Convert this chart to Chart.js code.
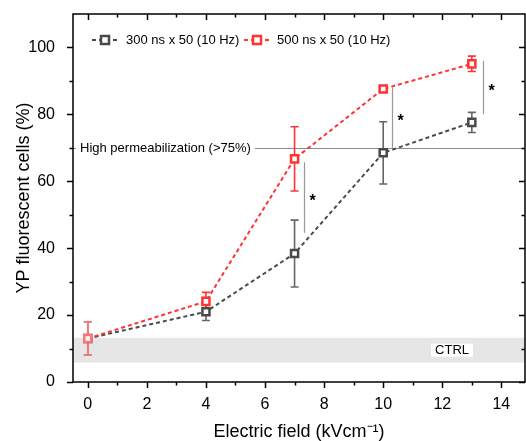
<!DOCTYPE html>
<html>
<head>
<meta charset="utf-8">
<script src="https://cdn.jsdelivr.net/npm/chart.js@4/dist/chart.umd.min.js"></script>
<style>
  html, body { margin: 0; padding: 0; background: #fff; overflow: hidden; }
  #box { width: 526px; height: 441px; }
</style>
</head>
<body>
<div id="box"><canvas id="grafica"></canvas></div>
<script>
// Datos
const campo = [0, 4, 7, 10, 13];
const serie300 = [13, 21, 38.4, 68.5, 77.6];
const error300 = [5, 2.6, 10, 9.3, 3];
const serie500 = [13, 24.1, 66.7, 87.6, 95.1];
const error500 = [5, 2.7, 9.6, 1, 2.3];
const etiquetas = ['300 ns x 50 (10 Hz)', '500 ns x 50 (10 Hz)'];

const ticksX = [0, 2, 4, 6, 8, 10, 12, 14];
const ticksY = [0, 20, 40, 60, 80, 100];
const umbral = 70;
const bandaCtrl = [5.8, 13.2];
// barras de significancia: x, y inferior, y superior
const sigX = [7.33, 10.3, 13.37];
const sigBajo = [44.6, 70, 80];
const sigAlto = [65.7, 88.1, 96];

const gris = '#4a4a4a';
const rojo = '#ff3333';
const rojoClaro = '#ff7373';
const fuente = 'Arial, "Liberation Sans", sans-serif';

// Dibujo extra: banda, umbral, barras de error, ejes espejo, leyenda
const extras = {
    id: 'extras',
    beforeDatasetsDraw(chart) {
        const { ctx, chartArea: a, scales: { x, y } } = chart;
        ctx.save();
        // banda CTRL
        ctx.fillStyle = '#e6e6e6';
        const y1 = y.getPixelForValue(bandaCtrl[1]);
        const y0 = y.getPixelForValue(bandaCtrl[0]);
        ctx.fillRect(a.left, y1, a.right - a.left, y0 - y1);
        // línea de umbral
        ctx.strokeStyle = '#8c8c8c';
        ctx.lineWidth = 1;
        const yu = Math.round(y.getPixelForValue(umbral)) + 0.5;
        ctx.beginPath(); ctx.moveTo(a.left, yu); ctx.lineTo(a.right, yu); ctx.stroke();
        // texto umbral
        ctx.font = '13px ' + fuente;
        ctx.textBaseline = 'middle';
        const txt = 'High permeabilization (>75%)';
        const tw = ctx.measureText(txt).width;
        ctx.fillStyle = '#fff';
        ctx.fillRect(a.left + 3, yu - 7, tw + 8, 14);
        ctx.fillStyle = '#000';
        ctx.fillText(txt, a.left + 7, yu);
        // texto CTRL
        const cx = x.getPixelForValue(12.33);
        const cy = y.getPixelForValue(9.5);
        const cw = ctx.measureText('CTRL').width;
        ctx.fillStyle = '#fff';
        ctx.fillRect(cx - cw / 2 - 4, cy - 6.5, cw + 8, 13);
        ctx.fillStyle = '#000';
        ctx.textAlign = 'center';
        ctx.fillText('CTRL', cx, cy);
        // barras de significancia
        ctx.strokeStyle = '#999';
        ctx.lineWidth = 1.2;
        ctx.fillStyle = '#000';
        ctx.font = 'bold 16px ' + fuente;
        sigX.forEach((v, i) => {
            const px = Math.round(x.getPixelForValue(v)) + 0.5;
            ctx.beginPath();
            ctx.moveTo(px, y.getPixelForValue(sigBajo[i]));
            ctx.lineTo(px, y.getPixelForValue(sigAlto[i]));
            ctx.stroke();
            ctx.fillText('*', px + 8, y.getPixelForValue((sigBajo[i] + sigAlto[i]) / 2) + 4);
        });
        // barras de error
        const dibujarError = (vals, errs, colores) => {
            ctx.lineWidth = 1.6;
            campo.forEach((v, i) => {
                ctx.strokeStyle = colores[i];
                const px = x.getPixelForValue(v);
                const ya = y.getPixelForValue(vals[i] + errs[i]);
                const yb = y.getPixelForValue(vals[i] - errs[i]);
                ctx.beginPath();
                ctx.moveTo(px, ya); ctx.lineTo(px, yb);
                ctx.moveTo(px - 4, ya); ctx.lineTo(px + 4, ya);
                ctx.moveTo(px - 4, yb); ctx.lineTo(px + 4, yb);
                ctx.stroke();
            });
        };
        dibujarError(serie300, error300, campo.map(() => '#666'));
        dibujarError(serie500, error500, [rojoClaro, rojo, rojo, rojo, rojo]);
        ctx.restore();
    },
    afterDraw(chart) {
        const { ctx, chartArea: a, scales: { x, y } } = chart;
        ctx.save();
        ctx.strokeStyle = '#000';
        ctx.lineWidth = 1.5;
        ctx.strokeRect(a.left, a.top, a.right - a.left, a.bottom - a.top);
        ctx.beginPath();
        // ticks x: abajo hacia fuera, arriba hacia dentro
        for (let v = 0; v <= 14; v += 1) {
            const px = Math.round(x.getPixelForValue(v)) + 0.5;
            const l = v % 2 === 0 ? 6 : 3.5;
            ctx.moveTo(px, a.bottom); ctx.lineTo(px, a.bottom + l);
            ctx.moveTo(px, a.top); ctx.lineTo(px, a.top + l);
        }
        // ticks y: izquierda hacia fuera, derecha hacia dentro
        for (let v = 0; v <= 100; v += 10) {
            const py = Math.round(y.getPixelForValue(v)) + 0.5;
            const l = v % 20 === 0 ? 6 : 3.5;
            ctx.moveTo(a.left, py); ctx.lineTo(a.left - l, py);
            ctx.moveTo(a.right, py); ctx.lineTo(a.right - l, py);
        }
        ctx.stroke();
        // leyenda
        const simbolo = (sx, sy, color) => {
            ctx.strokeStyle = color;
            ctx.lineWidth = 2;
            ctx.setLineDash([4, 3]);
            ctx.beginPath(); ctx.moveTo(sx, sy); ctx.lineTo(sx + 26, sy); ctx.stroke();
            ctx.setLineDash([]);
            ctx.fillStyle = '#fff';
            ctx.fillRect(sx + 8, sy - 5, 10, 10);
            ctx.lineWidth = 2.5;
            ctx.strokeRect(sx + 9, sy - 4, 8, 8);
        };
        const ly = 40;
        ctx.font = '13px ' + fuente;
        ctx.textBaseline = 'middle';
        simbolo(92, ly, gris);
        ctx.fillStyle = '#000';
        ctx.fillText(etiquetas[0], 126, ly);
        simbolo(244, ly, rojo);
        ctx.fillStyle = '#000';
        ctx.fillText(etiquetas[1], 277, ly);
        ctx.restore();
    }
};

new Chart(document.getElementById('grafica'), {
    type: 'line',
    data: {
        datasets: [
            {
                label: etiquetas[1],
                data: campo.map((v, i) => ({ x: v, y: serie500[i] })),
                borderColor: rojo,
                borderWidth: 2,
                borderDash: [4, 3],
                pointStyle: 'rect',
                pointRadius: 5,
                pointBorderWidth: 2.5,
                pointBackgroundColor: '#fff',
                pointBorderColor: [rojoClaro, rojo, rojo, rojo, rojo],
                order: 0
            },
            {
                label: etiquetas[0],
                data: campo.map((v, i) => ({ x: v, y: serie300[i] })),
                borderColor: gris,
                borderWidth: 2,
                borderDash: [4, 3],
                pointStyle: 'rect',
                pointRadius: 5,
                pointBorderWidth: 2.5,
                pointBackgroundColor: '#fff',
                pointBorderColor: gris,
                order: 1
            }
        ]
    },
    options: {
        responsive: true,
        maintainAspectRatio: false,
        animation: false,
        layout: { autoPadding: false, padding: { top: 14, right: 1, left: 0, bottom: 0 } },
        plugins: {
            legend: { display: false },
            tooltip: { enabled: false }
        },
        scales: {
            x: {
                type: 'linear',
                min: -0.5,
                max: 14.8,
                afterBuildTicks: s => { s.ticks = ticksX.map(v => ({ value: v })); },
                afterFit: s => { s.height = 59; s.paddingLeft = 0; s.paddingRight = 0; },
                grid: { display: false },
                border: { display: false },
                ticks: { color: '#000', font: { size: 16, family: fuente }, padding: 5, maxRotation: 0 },
                title: {
                    display: true,
                    text: 'Electric field (kVcm\u207B\u00B9)',
                    color: '#000',
                    font: { size: 18, family: fuente, lineHeight: 1 },
                    padding: { top: 4, bottom: 0 }
                }
            },
            y: {
                min: 0,
                max: 110,
                afterBuildTicks: s => { s.ticks = ticksY.map(v => ({ value: v })); },
                afterFit: s => { s.width = 73; s.paddingTop = 0; s.paddingBottom = 0; },
                grid: { display: false },
                border: { display: false },
                ticks: { color: '#000', font: { size: 16, family: fuente }, padding: 10 },
                title: {
                    display: true,
                    text: 'YP fluorescent cells (%)',
                    color: '#000',
                    font: { size: 18, family: fuente },
                    padding: { top: 13, bottom: 0 }
                }
            }
        }
    },
    plugins: [extras]
});
</script>
</body>
</html>
